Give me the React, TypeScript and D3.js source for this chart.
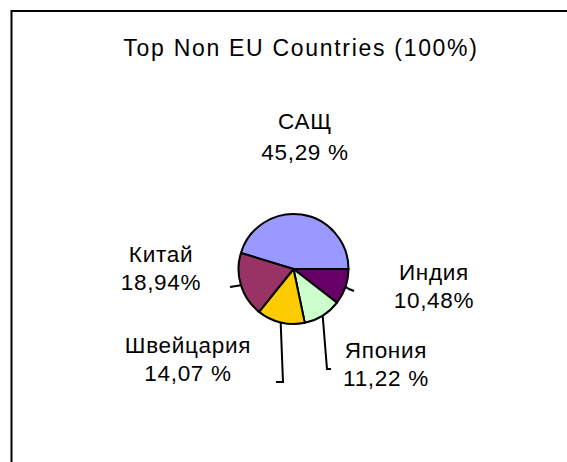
import React from "react";
import * as d3 from "d3";

const title = "Top Non EU Countries (100%)";
const categories = ["САЩ", "Индия", "Япония", "Швейцария", "Китай"];
const values = [45.29, 10.48, 11.22, 14.07, 18.94];
const valueLabels = ["45,29 %", "10,48%", "11,22 %", "14,07 %", "18,94%"];
const colors = ["#9999FF", "#660066", "#CCFFCC", "#FFCC00", "#993366"];

// layout (label anchor centers / baselines, leader line bends)
const labelPos: [number, number][] = [
  [305, 129],
  [434, 280],
  [386, 358],
  [188, 353],
  [161, 262],
];
const lineGap = 28;
const leaders: ([number, number][] | null)[] = [
  null,
  [[349, 289], [354, 291]],
  [[327, 369], [331, 369]],
  [[283, 382], [276, 382]],
  [[230, 287]],
];

const W = 567;
const H = 462;
const cx = 293.5;
const cy = 269;
const R = 55;
const startDeg = -73;

export default function App() {
  const start = (startDeg * Math.PI) / 180;
  const pie = d3
    .pie<number>()
    .sort(null)
    .value((d) => d)
    .startAngle(start)
    .endAngle(start + 2 * Math.PI);
  const arcs = pie(values);
  const arc = d3.arc<d3.PieArcDatum<number>>().innerRadius(0).outerRadius(R);
  const font = "'Liberation Sans', Arial, sans-serif";
  const line = d3.line();

  return (
    <svg
      width={W}
      height={H}
      style={{ position: "absolute", left: 0, top: 0, background: "#fff" }}
    >
      <rect x={11.5} y={11} width={620} height={520} fill="#fff" stroke="#000" strokeWidth={2} />
      <text
        x={301}
        y={56}
        textAnchor="middle"
        fontFamily={font}
        fontSize={23}
        letterSpacing={1.7}
        fill="#000"
      >
        {title}
      </text>
      <g transform={`translate(${cx},${cy})`}>
        {arcs.map((a, i) => (
          <path key={i} d={arc(a) || ""} fill={colors[i]} stroke="#000" strokeWidth={2} strokeLinejoin="round" />
        ))}
      </g>
      {arcs.map((a, i) => {
        const pts = leaders[i];
        if (!pts) return null;
        const mid = (a.startAngle + a.endAngle) / 2;
        const p0: [number, number] = [cx + R * Math.sin(mid), cy - R * Math.cos(mid)];
        return (
          <path
            key={"l" + i}
            d={line([p0, ...pts]) || ""}
            fill="none"
            stroke="#000"
            strokeWidth={2}
          />
        );
      })}
      {categories.map((c, i) => (
        <text
          key={"t" + i}
          x={labelPos[i][0]}
          y={labelPos[i][1]}
          textAnchor="middle"
          fontFamily={font}
          fontSize={22.5}
          letterSpacing={0.7}
          fill="#000"
        >
          <tspan x={labelPos[i][0]} y={labelPos[i][1]}>{c}</tspan>
          <tspan x={labelPos[i][0]} y={labelPos[i][1] + lineGap + (i === 0 ? 3 : 0)}>{valueLabels[i]}</tspan>
        </text>
      ))}
    </svg>
  );
}
